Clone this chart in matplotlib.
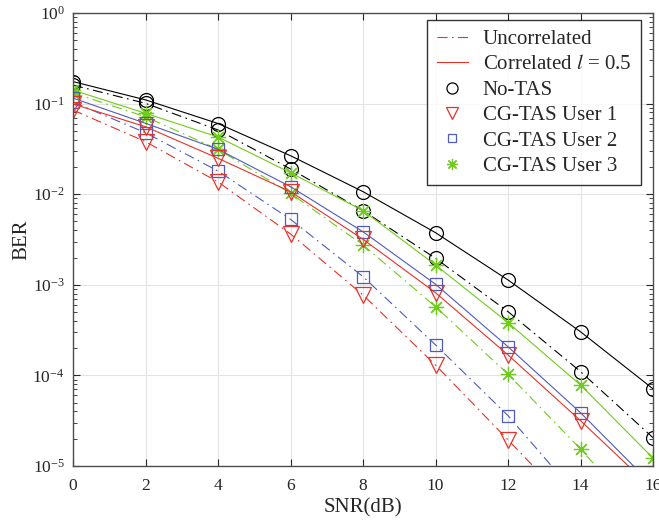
import matplotlib
matplotlib.use("Agg")
import matplotlib.pyplot as plt
from matplotlib.lines import Line2D
from matplotlib.ticker import LogLocator, LogFormatterMathtext, NullFormatter

plt.rcParams["font.family"] = ["Liberation Serif", "DejaVu Serif"]
plt.rcParams["mathtext.fontset"] = "stix"

# data (BER vs SNR)
snr = [0, 2, 4, 6, 8, 10, 12, 14, 16]
notas_corr = [0.175, 0.110, 0.0603, 0.0266, 0.01067, 0.00376, 0.00113, 3.03e-4, 7.1e-5]
notas_unc = [0.160, 0.1007, 0.0512, 0.0190, 0.00658, 0.00196, 5.05e-4, 1.10e-4, 2.05e-5]
u3_corr = [0.141, 0.0782, 0.0428, 0.01726, 0.00658, 0.001655, 3.82e-4, 7.83e-5, 1.22e-5]
u3_unc = [0.131, 0.0716, 0.0313, 0.01023, 0.00275, 5.73e-4, 1.03e-4, 1.54e-5, 1.97e-6]
u2_corr = [0.115, 0.0606, 0.0313, 0.0121, 0.00385, 0.001014, 2.07e-4, 3.87e-5, 6.07e-6]
u2_unc = [0.104, 0.0477, 0.0180, 0.00528, 0.00123, 2.17e-4, 3.59e-5, 4.27e-6, 5.0e-7]
u1_corr = [0.099, 0.0556, 0.0249, 0.01066, 0.00318, 8.18e-4, 1.68e-4, 3.16e-5, 5.53e-6]
u1_unc = [0.085, 0.0380, 0.01365, 0.00364, 7.71e-4, 1.30e-4, 1.94e-5, 2.84e-6, 3.8e-7]

red = "#e5332a"
blue = "#4f5bbd"
green = "#6fcc1c"
black = "#000000"
dashdot = (0, (9, 4, 1.5, 4))

fig = plt.figure(figsize=(6.59, 5.25), dpi=100)
ax = fig.add_axes([0.1108, 0.1124, 0.8802, 0.8628])

series = [
    (notas_corr, black, "-", "o", 10),
    (notas_unc, black, dashdot, "o", 10),
    (u3_corr, green, "-", (8, 2, 0), 11),
    (u3_unc, green, dashdot, (8, 2, 0), 11),
    (u2_corr, blue, "-", "s", 8),
    (u2_unc, blue, dashdot, "s", 8),
    (u1_corr, red, "-", "v", 11.5),
    (u1_unc, red, dashdot, "v", 11.5),
]
for vals, c, ls, mk, ms in series:
    ax.plot(snr, vals, color=c, linestyle=ls, linewidth=0.8, marker=mk,
            markersize=ms, markerfacecolor="none", markeredgecolor=c,
            markeredgewidth=0.9)

ax.set_yscale("log")
ax.set_xlim(0, 16)
ax.set_ylim(1e-5, 1)
ax.set_xticks(range(0, 17, 2))
ax.yaxis.set_major_locator(LogLocator(base=10, numticks=10))
ax.yaxis.set_minor_locator(LogLocator(base=10, subs=range(2, 10), numticks=10))
ax.yaxis.set_major_formatter(LogFormatterMathtext())
ax.yaxis.set_minor_formatter(NullFormatter())
ax.grid(True, which="major", color="#e3e3e3", linewidth=0.8)
ax.set_axisbelow(True)
ax.tick_params(which="both", direction="in", top=True, right=True,
               labelsize=12.5, colors="#262626", labelcolor="#262626")
ax.tick_params(which="major", length=5)
ax.tick_params(which="minor", length=3)
ax.tick_params(axis="x", pad=9)
ax.tick_params(axis="y", pad=6)
for s in ax.spines.values():
    s.set_color("#4d4d4d")
    s.set_linewidth(1.0)

ax.set_xlabel("SNR(dB)", fontsize=15, color="#262626", labelpad=3)
ax.set_ylabel("BER", fontsize=15, color="#262626", labelpad=1)

handles = [
    Line2D([], [], color=red, linestyle=dashdot, linewidth=0.8),
    Line2D([], [], color=red, linestyle="-", linewidth=0.8),
    Line2D([], [], color=black, linestyle="none", marker="o", markersize=8,
           markerfacecolor="none", markeredgewidth=0.9),
    Line2D([], [], color=red, linestyle="none", marker="v", markersize=9,
           markerfacecolor="none", markeredgewidth=0.9),
    Line2D([], [], color=blue, linestyle="none", marker="s", markersize=6,
           markerfacecolor="none", markeredgewidth=0.9),
    Line2D([], [], color=green, linestyle="none", marker=(8, 2, 0), markersize=8,
           markeredgewidth=0.9),
]
labels = ["Uncorrelated", "Correlated $l$ = 0.5", "No-TAS", "CG-TAS User 1",
          "CG-TAS User 2", "CG-TAS User 3"]
leg = ax.legend(handles, labels, loc="upper right", bbox_to_anchor=(0.979, 0.9845),
                borderaxespad=0, fontsize=15, frameon=True, fancybox=False,
                edgecolor="black", handlelength=1.5, labelspacing=0.28,
                borderpad=0.45, handletextpad=0.72)
leg.get_frame().set_linewidth(1.0)
for t in leg.get_texts():
    t.set_color("#262626")

fig.savefig("out.png", dpi=100)
